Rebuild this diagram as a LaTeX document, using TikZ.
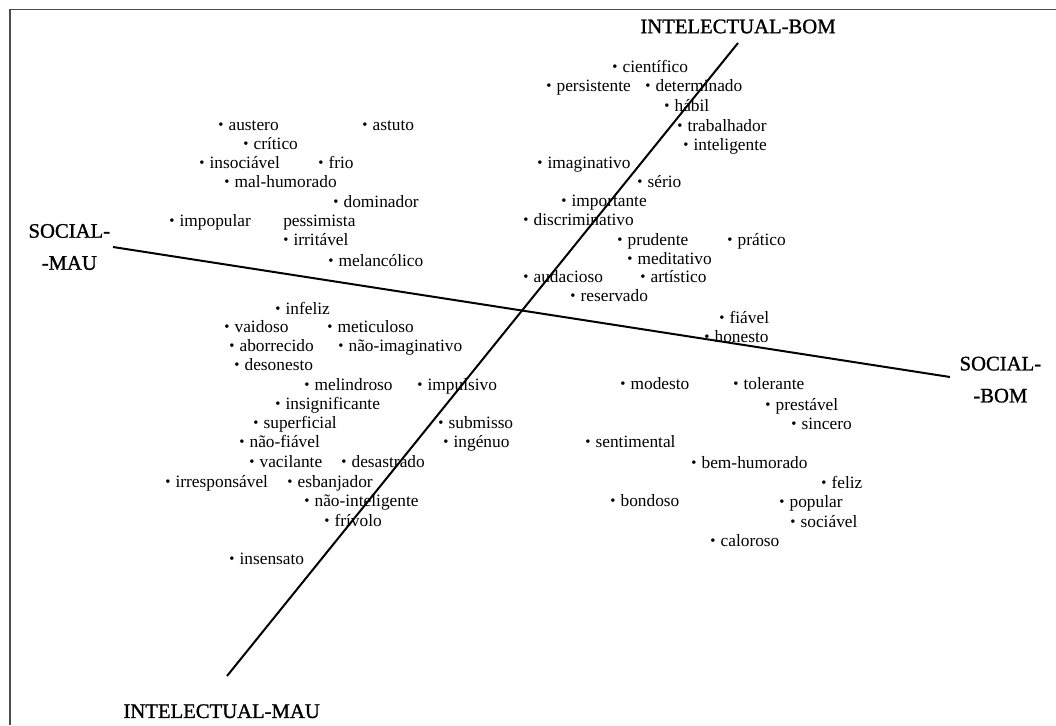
\documentclass[tikz,border=0pt]{standalone}
\usepackage{fontspec}
\setmainfont{Liberation Serif}
\newfontfamily\polefont[FakeBold=1.2]{Liberation Serif}
\usetikzlibrary{positioning}
\newcommand{\bul}{\raisebox{0.05ex}{\scalebox{0.85}{\textbullet}}\hspace{0.3em}}

\begin{document}
\begin{tikzpicture}[x=0.75pt,y=-0.75pt,
        trait/.style={anchor=base west, inner sep=0pt, yshift=-3pt, font=\fontsize{13}{15}\selectfont},
        pole/.style={inner sep=0pt, align=center, font=\polefont\fontsize{15.5}{24}\selectfont},
        axis/.style={line width=1.5pt}]
        \useasboundingbox (0,0) rectangle (1056,725);
        \draw[gray!60!black, line width=0.9pt] (10,725) -- (10,9.5) -- (1056,9.5);

        % axes
        \coordinate (intmau) at (227,676);
        \coordinate (intbom) at (738,43);
        \coordinate (socmau) at (113,247);
        \coordinate (socbom) at (950,377);
        \draw[axis] (intmau) -- (intbom);
        \draw[axis] (socmau) -- (socbom);
        \node[pole, above=7pt of intbom] (lbl_intbom) {INTELECTUAL-BOM};
        \node[pole, below=21pt of intmau, xshift=-4pt] (lbl_intmau) {INTELECTUAL-MAU};
        \node[pole, left=2pt of socmau] (lbl_socmau) {SOCIAL-\\-MAU};
        \node[pole, right=7pt of socbom, yshift=-2pt] (lbl_socbom) {SOCIAL-\\-BOM};

        % social-mau, intelectual-bom
        \node[trait] (austero) at (218,126) {\bul austero};
        \node[trait] (astuto) at (362,126) {\bul astuto};
        \node[trait] (critico) at (243,145) {\bul crítico};
        \node[trait] (insociavel) at (199,164) {\bul insociável};
        \node[trait] (frio) at (318,164) {\bul frio};
        \node[trait] (mal-humorado) at (224,183) {\bul mal-humorado};
        \node[trait] (dominador) at (333,203) {\bul dominador};
        \node[trait] (impopular) at (169,222) {\bul impopular};
        \node[trait] (pessimista) at (283,222) {pessimista};
        \node[trait] (irritavel) at (283,241) {\bul irritável};
        \node[trait] (melancolico) at (328,262) {\bul melancólico};

        % intelectual-bom
        \node[trait] (cientifico) at (612,68) {\bul científico};
        \node[trait] (persistente) at (546,87) {\bul persistente};
        \node[trait] (determinado) at (645,87) {\bul determinado};
        \node[trait] (habil) at (664,107) {\bul hábil};
        \node[trait] (trabalhador) at (677,127) {\bul trabalhador};
        \node[trait] (inteligente) at (683,146) {\bul inteligente};
        \node[trait] (imaginativo) at (537,164) {\bul imaginativo};
        \node[trait] (serio) at (637,183) {\bul sério};
        \node[trait] (importante) at (561,202) {\bul importante};
        \node[trait] (discriminativo) at (523,221) {\bul discriminativo};
        \node[trait] (prudente) at (617,241) {\bul prudente};
        \node[trait] (pratico) at (727,241) {\bul prático};
        \node[trait] (meditativo) at (627,260) {\bul meditativo};
        \node[trait] (audacioso) at (523,278) {\bul audacioso};
        \node[trait] (artistico) at (640,278) {\bul artístico};
        \node[trait] (reservado) at (570,297) {\bul reservado};

        % social-bom
        \node[trait] (fiavel) at (719,319) {\bul fiável};
        \node[trait] (honesto) at (704,338) {\bul honesto};
        \node[trait] (modesto) at (620,385) {\bul modesto};
        \node[trait] (tolerante) at (733,385) {\bul tolerante};
        \node[trait] (prestavel) at (765,406) {\bul prestável};
        \node[trait] (sincero) at (791,425) {\bul sincero};
        \node[trait] (sentimental) at (585,443) {\bul sentimental};
        \node[trait] (bem-humorado) at (691,464) {\bul bem-humorado};
        \node[trait] (feliz) at (821,484) {\bul feliz};
        \node[trait] (bondoso) at (610,502) {\bul bondoso};
        \node[trait] (popular) at (779,503) {\bul popular};
        \node[trait] (sociavel) at (790,523) {\bul sociável};
        \node[trait] (caloroso) at (710,542) {\bul caloroso};

        % intelectual-mau
        \node[trait] (infeliz) at (275,310) {\bul infeliz};
        \node[trait] (vaidoso) at (224,328) {\bul vaidoso};
        \node[trait] (meticuloso) at (327,328) {\bul meticuloso};
        \node[trait] (aborrecido) at (229,347) {\bul aborrecido};
        \node[trait] (nao-imaginativo) at (338,347) {\bul não-imaginativo};
        \node[trait] (desonesto) at (234,366) {\bul desonesto};
        \node[trait] (melindroso) at (304,386) {\bul melindroso};
        \node[trait] (impulsivo) at (417,386) {\bul impulsivo};
        \node[trait] (insignificante) at (275,405) {\bul insignificante};
        \node[trait] (superficial) at (253,424) {\bul superficial};
        \node[trait] (submisso) at (438,424) {\bul submisso};
        \node[trait] (nao-fiavel) at (239,443) {\bul não-fiável};
        \node[trait] (ingenuo) at (443,443) {\bul ingénuo};
        \node[trait] (vacilante) at (249,463) {\bul vacilante};
        \node[trait] (desastrado) at (341,463) {\bul desastrado};
        \node[trait] (irresponsavel) at (165,483) {\bul irresponsável};
        \node[trait] (esbanjador) at (287,483) {\bul esbanjador};
        \node[trait] (nao-inteligente) at (304,502) {\bul não-inteligente};
        \node[trait] (frivolo) at (324,522) {\bul frívolo};
        \node[trait] (insensato) at (229,560) {\bul insensato};
\end{tikzpicture}
\end{document}
